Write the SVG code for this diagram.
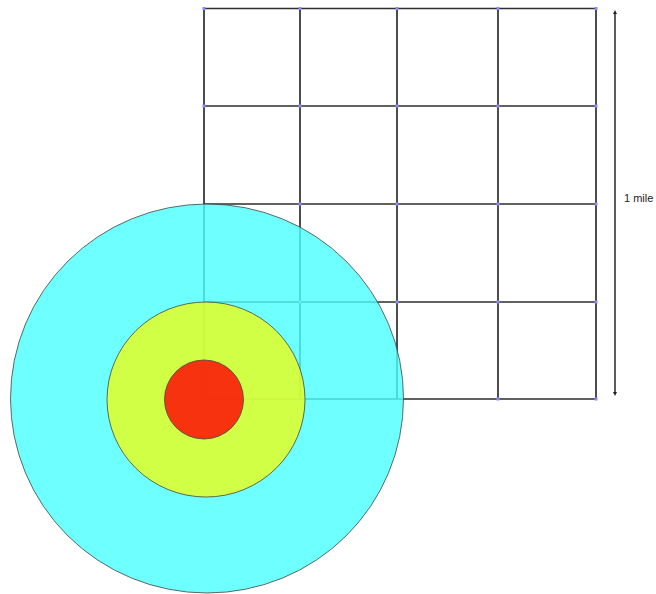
<svg xmlns="http://www.w3.org/2000/svg" width="656" height="594" viewBox="0 0 656 594">
<style>
.g{stroke:#2e2e2e;stroke-width:1.7;fill:none}
.v{fill:#8a8aff}
.c{stroke:#444;stroke-width:0.8;fill-opacity:0.8}
.t{font-family:"Liberation Sans",Arial,sans-serif;font-size:11px;fill:#222}
</style>
<defs>
<marker id="ah" viewBox="0 0 6 6" refX="3" refY="3" markerWidth="4" markerHeight="4" orient="auto-start-reverse" markerUnits="userSpaceOnUse">
<path d="M0,0 L6,3 L0,6 z" fill="#222"/>
</marker>
</defs>
<rect width="656" height="594" fill="#fff"/>
<g id="grid">
<path class="g" d="M204,8.5V399M300,8.5V399M397,8.5V399M498,8.5V399M596,8.5V399"/>
<path class="g" d="M204,8.5H596M204,106H596M204,204H596M204,302H596M204,399H596"/>
<g class="v">
<rect x="202.5" y="7" width="3" height="3"/><rect x="298.5" y="7" width="3" height="3"/><rect x="395.5" y="7" width="3" height="3"/><rect x="496.5" y="7" width="3" height="3"/><rect x="594.5" y="7" width="3" height="3"/>
<rect x="202.5" y="104.5" width="3" height="3"/><rect x="298.5" y="104.5" width="3" height="3"/><rect x="395.5" y="104.5" width="3" height="3"/><rect x="496.5" y="104.5" width="3" height="3"/><rect x="594.5" y="104.5" width="3" height="3"/>
<rect x="298.5" y="202.5" width="3" height="3"/><rect x="395.5" y="202.5" width="3" height="3"/><rect x="496.5" y="202.5" width="3" height="3"/><rect x="594.5" y="202.5" width="3" height="3"/>
<rect x="298.5" y="300.5" width="3" height="3"/><rect x="395.5" y="300.5" width="3" height="3"/><rect x="496.5" y="300.5" width="3" height="3"/><rect x="594.5" y="300.5" width="3" height="3"/>
<rect x="496.5" y="397.5" width="3" height="3"/><rect x="594.5" y="397.5" width="3" height="3"/>
</g>
</g>
<g id="circle-outer"><ellipse class="c" cx="207" cy="398.5" rx="196.5" ry="194.5" fill="#4affff" fill-opacity="0.7"/></g>
<g id="circle-middle"><ellipse class="c" cx="206" cy="399.5" rx="99" ry="97.5" fill="#e9ff18"/></g>
<g id="circle-inner"><circle class="c" cx="204" cy="399.5" r="39.5" fill="#ff0000"/></g>
<g id="connectors">
<line x1="615" y1="12" x2="615" y2="394" stroke="#333" stroke-width="1.6" marker-start="url(#ah)" marker-end="url(#ah)"/>
</g>
<g id="label"><text class="t" x="624" y="202">1 mile</text></g>
</svg>
